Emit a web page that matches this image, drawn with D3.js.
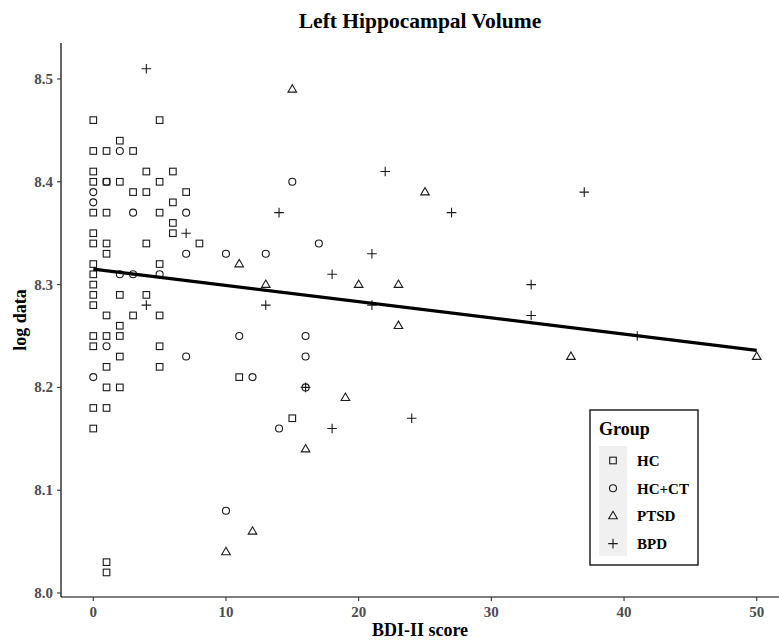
<!DOCTYPE html>
<html><head><meta charset="utf-8">
<script src="https://cdn.jsdelivr.net/npm/d3@7"></script>
<style>body{margin:0;background:#fff}text{font-family:"Liberation Serif","Times New Roman",serif;font-weight:bold}</style>
</head><body><svg id="c" width="779" height="640"></svg>
<script>
const groups = ["HC","HC+CT","PTSD","BPD"];
const hcX  = [0,5,2,0,1,3,0,4,6,0,1,2,5,3,4,7,6,0,1,5,6,0,6,0,1,4,8,1,0,5,0,0,0,2,4,0,1,3,5,2,0,1,2,0,5,2,1,5,1,2,0,1,0,1,1,11,15];
const hcY  = [8.46,8.46,8.44,8.43,8.43,8.43,8.41,8.41,8.41,8.40,8.40,8.40,8.40,8.39,8.39,8.39,8.38,8.37,8.37,8.37,8.36,8.35,8.35,8.34,8.34,8.34,8.34,8.33,8.32,8.32,8.31,8.30,8.29,8.29,8.29,8.28,8.27,8.27,8.27,8.26,8.25,8.25,8.25,8.24,8.24,8.23,8.22,8.22,8.20,8.20,8.18,8.18,8.16,8.03,8.02,8.21,8.17];
const ctX  = [2,1,0,0,3,7,7,2,3,5,1,7,0,15,10,13,17,11,16,16,12,16,14,10];
const ctY  = [8.43,8.40,8.39,8.38,8.37,8.37,8.33,8.31,8.31,8.31,8.24,8.23,8.21,8.40,8.33,8.33,8.34,8.25,8.25,8.23,8.21,8.20,8.16,8.08];
const ptX  = [15,25,11,13,20,23,23,36,50,19,16,12,10];
const ptY  = [8.49,8.39,8.32,8.30,8.30,8.30,8.26,8.23,8.23,8.19,8.14,8.06,8.04];
const bpX  = [4,7,4,14,22,27,37,18,21,13,21,33,33,41,16,24,18];
const bpY  = [8.51,8.35,8.28,8.37,8.41,8.37,8.39,8.31,8.33,8.28,8.28,8.30,8.27,8.25,8.20,8.17,8.16];
// fitted linear trend
const fitX = [0,50];
const fitY = [8.315,8.236];
const xTicks = [0,10,20,30,40,50];
const yTicks = [8.0,8.1,8.2,8.3,8.4,8.5];

const svg = d3.select("#c");
const x = d3.scaleLinear().domain([-2.5,52.5]).range([60.1,789.9]);
const y = d3.scaleLinear().domain([8.0,8.5]).range([593,79]);
const pLeft=61, pBottom=597, pTop=43;

const series = [[hcX,hcY],[ctX,ctY],[ptX,ptY],[bpX,bpY]];
const pts = [];
series.forEach((s,g)=>s[0].forEach((v,i)=>pts.push({x:v,y:s[1][i],g})));

function shape(sel,g){
  const st="#1a1a1a";
  if(g===0) sel.append("rect").attr("x",-3.3).attr("y",-3.3).attr("width",6.6).attr("height",6.6).attr("fill","none").attr("stroke",st).attr("stroke-width",1.1);
  else if(g===1) sel.append("circle").attr("r",3.5).attr("fill","none").attr("stroke",st).attr("stroke-width",1.1);
  else if(g===2) sel.append("path").attr("d","M0,-4.6L4.3,2.8L-4.3,2.8Z").attr("fill","none").attr("stroke",st).attr("stroke-width",1.1);
  else sel.append("path").attr("d","M-4.8,0H4.8M0,-4.8V4.8").attr("fill","none").attr("stroke",st).attr("stroke-width",1.1);
}

const gp = svg.append("g");
pts.forEach(p=>{ const s=gp.append("g").attr("transform",`translate(${x(p.x)},${y(p.y)})`); shape(s,p.g); });

svg.append("path").datum(fitX.map((v,i)=>[v,fitY[i]]))
  .attr("d",d3.line().x(d=>x(d[0])).y(d=>y(d[1])))
  .attr("fill","none").attr("stroke","#000").attr("stroke-width",3.2);

svg.append("line").attr("x1",pLeft).attr("x2",779).attr("y1",pBottom).attr("y2",pBottom).attr("stroke","#000").attr("stroke-width",1.2);
svg.append("line").attr("x1",pLeft).attr("x2",pLeft).attr("y1",pTop).attr("y2",pBottom).attr("stroke","#000").attr("stroke-width",1.2);
xTicks.forEach(t=>{
  svg.append("line").attr("x1",x(t)).attr("x2",x(t)).attr("y1",pBottom).attr("y2",pBottom+4).attr("stroke","#333").attr("stroke-width",1.1);
  svg.append("text").attr("x",x(t)).attr("y",pBottom+20).attr("text-anchor","middle").attr("font-size",15).attr("fill","#4d4d4d").text(d3.format("d")(t));
});
yTicks.forEach(t=>{
  svg.append("line").attr("x1",pLeft-4).attr("x2",pLeft).attr("y1",y(t)).attr("y2",y(t)).attr("stroke","#333").attr("stroke-width",1.1);
  svg.append("text").attr("x",pLeft-8).attr("y",y(t)+5).attr("text-anchor","end").attr("font-size",15).attr("fill","#4d4d4d").text(d3.format(".1f")(t));
});
svg.append("text").attr("x",420).attr("y",636).attr("text-anchor","middle").attr("font-size",18).attr("fill","#000").text("BDI-II score");
svg.append("text").attr("transform",`translate(26,${(pTop+pBottom)/2}) rotate(-90)`).attr("text-anchor","middle").attr("font-size",18).attr("fill","#000").text("log data");
svg.append("text").attr("x",420).attr("y",28).attr("text-anchor","middle").attr("font-size",21.5).attr("fill","#000").text("Left Hippocampal Volume");

const lg = svg.append("g");
lg.append("rect").attr("x",590).attr("y",410).attr("width",108).attr("height",155).attr("fill","#fff").attr("stroke","#000").attr("stroke-width",1.3);
lg.append("text").attr("x",599).attr("y",435).attr("font-size",18).attr("fill","#000").text("Group");
lg.append("rect").attr("x",599).attr("y",446).attr("width",28).attr("height",110).attr("fill","#f0f0f0");
groups.forEach((gname,i)=>{
  const cy=460.5+i*27.7;
  const s=lg.append("g").attr("transform",`translate(613,${cy})`); shape(s,i);
  lg.append("text").attr("x",637).attr("y",cy+5.5).attr("font-size",15).attr("fill","#000").text(gname);
});
</script></body></html>
